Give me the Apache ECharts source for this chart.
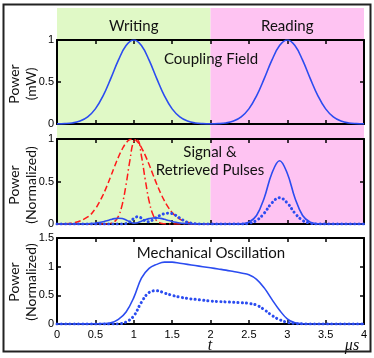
<!DOCTYPE html>
<html>
<head>
<meta charset="utf-8">
<script src="https://cdn.jsdelivr.net/npm/echarts@6.0.0/dist/echarts.min.js"></script>
<style>
html,body{margin:0;padding:0;background:#fff;}
#chart{width:374px;height:358px;}
</style>
</head>
<body>
<div id="chart"></div>
<script>
// ---------------- data ----------------
var phaseNames = ['Writing', 'Reading'];
var phaseStart = [0, 2];
var phaseEnd = [2, 4];

// Panel 1: coupling field (mW)
var couplingT = [0,0.1,0.2,0.3,0.4,0.5,0.6,0.7,0.8,0.9,1.0,1.1,1.2,1.3,1.4,1.5,1.6,1.7,1.8,1.9,2.0,
                 2.1,2.2,2.3,2.4,2.5,2.6,2.7,2.8,2.9,3.0,3.1,3.2,3.3,3.4,3.5,3.6,3.7,3.8,3.9,4.0];
var couplingP = [0.001,0.004,0.012,0.035,0.085,0.18,0.334,0.54,0.76,0.934,1.0,0.934,0.76,0.54,0.334,0.18,0.085,0.035,0.012,0.004,0.002,
                 0.004,0.012,0.035,0.085,0.18,0.334,0.54,0.76,0.934,1.0,0.934,0.76,0.54,0.334,0.18,0.085,0.035,0.012,0.004,0.001];

// Panel 2: signal & retrieved pulses (normalized)
var sigT = [0,0.2,0.4,0.5,0.55,0.6,0.65,0.7,0.75,0.8,0.85,0.9,0.95,1.0,1.05,1.1,1.15,1.2,1.25,1.3,1.35,1.4,1.45,1.5,1.55,1.6,1.65,1.7,
            1.8,1.9,2.0,2.2,2.4,2.5,2.6,2.7,2.8,2.9,3.0,3.1,3.2,3.3,3.4,3.6,3.8,4.0];
var inputWide = [0,0.011,0.083,0.18,0.254,0.343,0.446,0.56,0.676,0.787,0.882,0.954,0.993,0.997,0.964,0.899,0.807,0.699,0.583,0.468,0.363,0.271,0.195,0.135,0.09,0.058,0.036,0.021,
                 0.007,0.002,0,null,null,null,null,null,null,null,null,null,null,null,null,null,null,null];
var inputNarrow = [0,0,0,0,0,0,0,0.007,0.028,0.09,0.229,0.464,0.748,0.97,0.985,0.80,0.52,0.269,0.111,0.036,0.01,0.002,0,0,0,0,0,0,
                   0,0,0,null,null,null,null,null,null,null,null,null,null,null,null,null,null,null];
var outputWide = [0,0,0.003,0.01,0.017,0.027,0.038,0.052,0.063,0.068,0.064,0.048,0.025,0.01,0.015,0.033,0.05,0.063,0.071,0.072,0.066,0.055,0.042,0.03,0.02,0.012,0.007,0.004,
                  0.001,0,0,0,0.002,0.021,0.10,0.306,0.597,0.745,0.597,0.306,0.10,0.021,0.002,0,0,0];
var outputNarrow = [0,0,0,0,0,0,0,0,0,0,0,0.005,0.025,0.065,0.085,0.07,0.035,0.025,0.05,0.08,0.105,0.122,0.128,0.122,0.10,0.07,0.042,0.02,
                    0.004,0,0,0,0.001,0.009,0.042,0.127,0.248,0.31,0.248,0.127,0.042,0.009,0.001,0,0,0];

// Panel 3: mechanical oscillation (normalized)
var mechT = [0,0.1,0.2,0.3,0.4,0.5,0.6,0.7,0.8,0.9,1.0,1.1,1.2,1.3,1.4,1.5,1.6,1.7,1.8,1.9,2.0,
             2.1,2.2,2.3,2.4,2.5,2.6,2.7,2.8,2.9,3.0,3.1,3.2,3.3,3.4,3.5,3.6,3.7,3.8,3.9,4.0];
var mechWide = [0,0,0,0.002,0.003,0.005,0.008,0.02,0.08,0.21,0.46,0.8,0.97,1.04,1.08,1.08,1.06,1.04,1.02,1.0,0.98,
                0.96,0.94,0.915,0.89,0.86,0.78,0.63,0.43,0.24,0.09,0.02,0.004,0,0,0,0,0,0,0,0];
var mechNarrow = [0,0,0,0,0,0,0,0,0.003,0.035,0.14,0.38,0.55,0.58,0.54,0.5,0.47,0.445,0.43,0.415,0.40,
                  0.393,0.385,0.378,0.37,0.36,0.33,0.25,0.15,0.075,0.03,0.01,0.002,0,0,0,0,0,0,0,0];

// axis titles
var yTitleTop = ['Power', 'Power', 'Power'];
var yTitleUnit = ['(mW)', '(Normalized)', '(Normalized)'];

// ---------------- styles ----------------
var BLUE = '#2b4cf0', RED = '#ff1a1a';
var GREEN = '#e0f9c6', PINK = '#fec3f2';
var LABEL_FONT = 'Liberation Sans, Arial, sans-serif';
var TEXT_FONT = 'Lato, "Open Sans", sans-serif';

function pairs(ts, vs) { return ts.map(function (t, i) { return [t, vs[i]]; }); }

var grids = [
  {left: 57, width: 307, top: 40, height: 84, outerBoundsMode: 'none', containLabel: false},
  {left: 57, width: 307, top: 139, height: 85, outerBoundsMode: 'none', containLabel: false},
  {left: 57, width: 307, top: 238, height: 86, outerBoundsMode: 'none', containLabel: false},
  {left: 57, width: 307, top: 8, height: 217, outerBoundsMode: 'none', containLabel: false} // shading
];

var xAxes = [], yAxes = [];
var yMax = [1, 1, 1.5];
for (var g = 0; g < 3; g++) {
  ['bottom', 'top'].forEach(function (pos) {
    xAxes.push({
      type: 'value', gridIndex: g, position: pos, min: 0, max: 4, interval: 0.5,
      axisLine: {show: true, onZero: false, lineStyle: {color: '#000', width: 2}},
      axisTick: {show: true, inside: true, length: 4, lineStyle: {color: '#000', width: 1.5}},
      axisLabel: {show: (g === 2 && pos === 'bottom'), color: '#000', fontSize: 11, fontFamily: LABEL_FONT, margin: 5},
      splitLine: {show: false}
    });
  });
  ['left', 'right'].forEach(function (pos) {
    var isLeft = pos === 'left';
    yAxes.push({
      type: 'value', gridIndex: g, position: pos, min: 0, max: yMax[g], interval: 0.5,
      axisLine: {show: true, onZero: false, lineStyle: {color: '#000', width: 2}},
      axisTick: {show: true, inside: true, length: 4, lineStyle: {color: '#000', width: 1.5}},
      axisLabel: {show: isLeft, color: '#000', fontSize: 11, fontFamily: LABEL_FONT, margin: 3},
      splitLine: {show: false}
    });
  });
}
// shading axes (hidden)
xAxes.push({type: 'value', gridIndex: 3, min: 0, max: 4, show: false});
yAxes.push({type: 'value', gridIndex: 3, min: 0, max: 1, show: false});

var areaColors = [GREEN, PINK];
var shadeData = phaseNames.map(function (n, i) {
  return [{name: n, xAxis: phaseStart[i], itemStyle: {color: areaColors[i], opacity: 1}}, {xAxis: phaseEnd[i]}];
});

var series = [
  {
    type: 'line', xAxisIndex: 6, yAxisIndex: 6, z: -1, silent: true,
    data: [[0, -1], [4, -1]], showSymbol: false, lineStyle: {width: 0, opacity: 0},
    markArea: {
      z: -1, silent: true,
      label: {show: true, position: 'insideTop', distance: 11, color: '#111', fontSize: 15, fontFamily: TEXT_FONT},
      data: shadeData
    }
  },
  {type: 'line', xAxisIndex: 0, yAxisIndex: 0, data: pairs(couplingT, couplingP), smooth: 0.4, showSymbol: false,
   lineStyle: {color: BLUE, width: 1.6}},
  {type: 'line', xAxisIndex: 2, yAxisIndex: 2, data: pairs(sigT, inputWide), smooth: 0.4, showSymbol: false,
   lineStyle: {color: RED, width: 1.5, type: [6, 3]}},
  {type: 'line', xAxisIndex: 2, yAxisIndex: 2, data: pairs(sigT, inputNarrow), smooth: 0.4, showSymbol: false,
   lineStyle: {color: RED, width: 1.5, type: [7, 3, 1.5, 3]}},
  {type: 'line', xAxisIndex: 2, yAxisIndex: 2, data: pairs(sigT, outputWide), smooth: 0.4, showSymbol: false,
   lineStyle: {color: BLUE, width: 1.6}},
  {type: 'line', xAxisIndex: 2, yAxisIndex: 2, data: pairs(sigT, outputNarrow), smooth: 0.4, showSymbol: false,
   lineStyle: {color: BLUE, width: 3, type: [0.1, 4.2], cap: 'round'}},
  {type: 'line', xAxisIndex: 4, yAxisIndex: 4, data: pairs(mechT, mechWide), smooth: 0.4, showSymbol: false,
   lineStyle: {color: BLUE, width: 1.6}},
  {type: 'line', xAxisIndex: 4, yAxisIndex: 4, data: pairs(mechT, mechNarrow), smooth: 0.4, showSymbol: false,
   lineStyle: {color: BLUE, width: 3, type: [0.1, 4.2], cap: 'round'}}
];

function txt(s, x, y, font, rot) {
  return {type: 'text', z: 100, x: x, y: y, rotation: rot || 0, silent: true,
          style: {text: s, fill: '#111', font: font, textAlign: 'center', textVerticalAlign: 'middle'}};
}

var graphics = [
  {type: 'rect', z: 100, silent: true, shape: {x: 3.5, y: 4.5, width: 367, height: 347},
   style: {fill: 'none', stroke: '#222', lineWidth: 2}},
  txt('Coupling Field', 211, 59, '15px ' + TEXT_FONT),
  txt('Signal &', 210, 152, '15px ' + TEXT_FONT),
  txt('Retrieved Pulses', 210, 170, '15px ' + TEXT_FONT),
  txt('Mechanical Oscillation', 211, 253, '15px ' + TEXT_FONT),
  txt('t', 210, 346, 'italic 16px "Liberation Serif", serif'),
  txt('μs', 352, 346, 'italic 16px "Liberation Serif", serif')
];
var titleCenters = [84, 185, 282];
for (var k = 0; k < 3; k++) {
  graphics.push(txt(yTitleTop[k], 14, titleCenters[k], '14px ' + TEXT_FONT, Math.PI / 2));
  graphics.push(txt(yTitleUnit[k], 31, titleCenters[k], '14px ' + TEXT_FONT, Math.PI / 2));
}

var chart = echarts.init(document.getElementById('chart'), null, {renderer: 'canvas'});
chart.setOption({
  animation: false,
  backgroundColor: '#fff',
  grid: grids,
  xAxis: xAxes,
  yAxis: yAxes,
  series: series,
  graphic: graphics
});
</script>
</body>
</html>
